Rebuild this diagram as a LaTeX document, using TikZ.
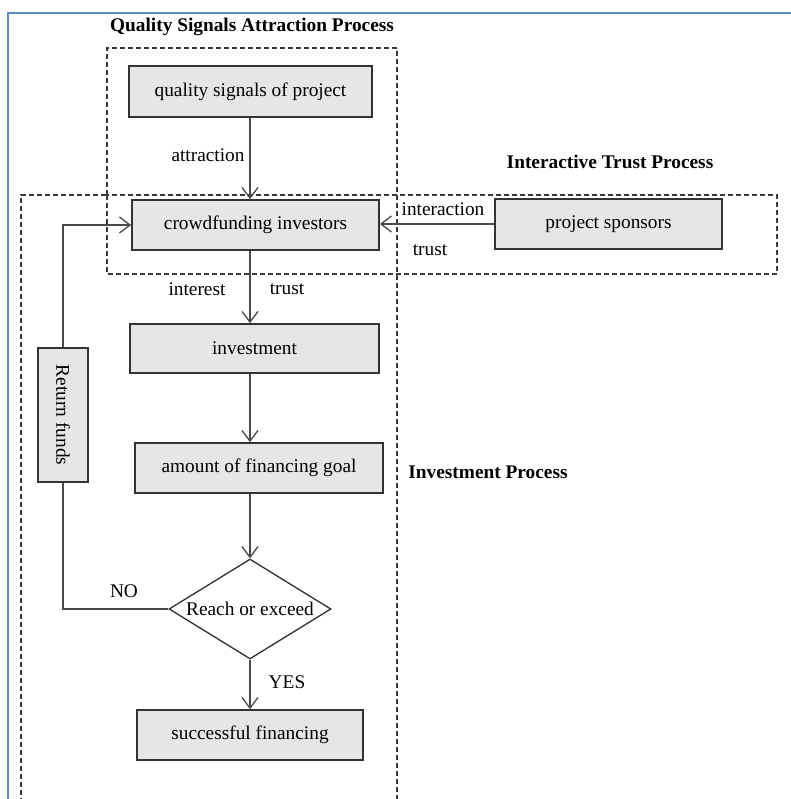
\documentclass[tikz,border=0pt]{standalone}
\usepackage{fontspec}
\setmainfont{Liberation Serif}
\usetikzlibrary{arrows.meta,shapes.geometric,calc}
\definecolor{boxfill}{HTML}{E6E6E6}
\definecolor{boxline}{HTML}{333333}
\definecolor{arrline}{HTML}{4A4A4A}
\definecolor{dashline}{HTML}{3A3A3A}
\definecolor{frameblue}{HTML}{5B8BC9}
\tikzset{
  every node/.style={font=\fontsize{14.5}{17}\selectfont, text=black},
  procbox/.style={draw=boxline, fill=boxfill, line width=1.15pt, inner sep=0pt, rectangle},
  decbox/.style={draw=boxline, fill=white, line width=1pt, shape=diamond, inner sep=0pt},
  flow/.style={draw=arrline, line width=1pt, -{Straight Barb[length=8pt,width=12pt,line width=1pt]}},
  plainflow/.style={draw=arrline, line width=1pt},
  groupbox/.style={draw=dashline, line width=0.85pt, dash pattern=on 3.6pt off 2.4pt},
  grouptitle/.style={font=\fontsize{14.5}{17}\selectfont\bfseries},
  lbl/.style={inner sep=0pt}
}
\begin{document}
\begin{tikzpicture}[x=0.75pt,y=-0.75pt]
\useasboundingbox (0,0) rectangle (790,799);
% blue frame
\draw[frameblue, line width=1.6pt] (8,802) -- (8,13) -- (793,13);
% dashed groups (shared edges drawn once)
\draw[groupbox] (107,195) -- (107,48) -- (397,48) -- (397,195);
\draw[groupbox] (107,195) rectangle (777,274);
\draw[groupbox] (21,803) -- (21,195) -- (107,195);
\draw[groupbox] (397,195) -- (397,803);
% titles
\node[grouptitle] (t1) at (252,27) {Quality Signals Attraction Process};
\node[grouptitle] (t2) at (610,162) {Interactive Trust Process};
\node[grouptitle] (t3) at (488,472) {Investment Process};
% column
\coordinate (col) at (250,0);
% nodes
\node[procbox, minimum width=243*0.75pt, minimum height=51*0.75pt] (qsp) at (250.5,91.5) {quality signals of project};
\node[procbox, minimum width=247*0.75pt, minimum height=50*0.75pt] (ci) at (255.5,225) {crowdfunding investors};
\node[procbox, minimum width=227*0.75pt, minimum height=50*0.75pt] (ps) at (608.5,224) {project sponsors};
\node[procbox, minimum width=249*0.75pt, minimum height=49*0.75pt] (inv) at (254.5,348.5) {investment};
\node[procbox, minimum width=248*0.75pt, minimum height=50*0.75pt] (amt) at (259,468) {amount of financing goal};
\node[decbox, minimum width=162*0.75pt, minimum height=100*0.75pt] (dec) at (250,609) {};
\node[lbl] (dect) at (dec.center) {Reach or exceed};
\node[procbox, minimum width=226*0.75pt, minimum height=50*0.75pt] (succ) at (250,735) {successful financing};
\node[procbox, minimum width=50*0.75pt, minimum height=134*0.75pt] (rf) at (63,415) {};
\node[lbl, rotate=-90] (rft) at (rf.center) {Return funds};
% connectors
\draw[flow] (qsp.south -| col) -- (ci.north -| col);
\draw[flow] (ps.west) -- (ps.west -| ci.east);
\draw[flow] (ci.south -| col) -- (inv.north -| col);
\draw[flow] (inv.south -| col) -- (amt.north -| col);
\draw[flow] (amt.south -| col) -- (dec.north);
\draw[flow] (dec.south) -- (succ.north -| dec.south);
\draw[plainflow] (dec.west) -| (rf.south);
\draw[flow] (rf.north) |- (ci.west);
% labels
\node[lbl] (la) at (208,155) {attraction};
\node[lbl] (li) at (197,289) {interest};
\node[lbl] (lt1) at (287,289) {trust};
\node[lbl] (lint) at (443,209) {interaction};
\node[lbl] (lt2) at (430,250) {trust};
\node[lbl] (lno) at (124,591) {NO};
\node[lbl] (lyes) at (287,682) {YES};
\end{tikzpicture}
\end{document}
